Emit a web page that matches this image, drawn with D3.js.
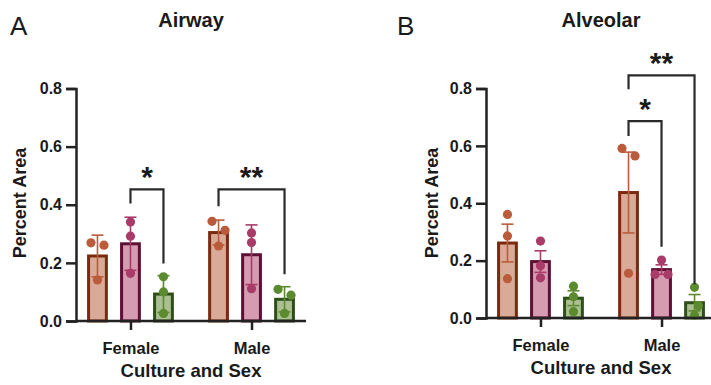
<!DOCTYPE html>
<html>
<head>
<meta charset="utf-8">
<script src="https://cdn.jsdelivr.net/npm/d3@7"></script>
<style>
  body { margin: 0; background: #fff; }
  text { font-family: "Liberation Sans", Arial, Helvetica, sans-serif; fill: #1a1a1a; }
</style>
</head>
<body>
<div id="chart"></div>
<script>
// categories and series
const groups = ['Female', 'Male'];
const series = ['c1', 'c2', 'c3'];
const yTicks = [0, 0.2, 0.4, 0.6, 0.8];

// individual replicate values, [group][series][replicate]
const airwayPoints = [
  [[0.269, 0.261, 0.141], [0.341, 0.292, 0.164], [0.152, 0.100, 0.026]],
  [[0.343, 0.312, 0.258], [0.303, 0.270, 0.111], [0.109, 0.089, 0.026]]
];
const alveolarPoints = [
  [[0.361, 0.286, 0.137], [0.268, 0.182, 0.140], [0.111, 0.074, 0.022]],
  [[0.591, 0.565, 0.156], [0.202, 0.152, 0.152], [0.107, 0.043, 0.010]]
];
// horizontal spread of dots (-1 left, 0 centre, 1 right)
const airwayJitter = [
  [[-1, 1, 0], [0, 0, 0], [0, 0, 0]],
  [[-1, 1, 0], [0, 0, 0], [-1, 1, 0]]
];
const alveolarJitter = [
  [[0, 0, 0], [0, 0, 0], [0, 0, 0]],
  [[-1, 1, 0], [0, -1, 1], [0, 0.6, 0]]
];

// significance brackets: group, from series, to series, top, left end, right end
const airwaySig = [
  { group: 'Female', from: 1, to: 2, top: 0.453, left: 0.404, right: 0.198, label: '*' },
  { group: 'Male', from: 0, to: 2, top: 0.453, left: 0.395, right: 0.161, label: '**' }
];
const alveolarSig = [
  { group: 'Male', from: 0, to: 1, top: 0.686, left: 0.634, right: 0.248, label: '*' },
  { group: 'Male', from: 0, to: 2, top: 0.846, left: 0.797, right: 0.118, label: '**' }
];

const fills = ['#d9aa97', '#d59bb0', '#aac092'];
const strokes = ['#7a2a0f', '#5e0f33', '#2f4f18'];
const dotColors = ['#ba5b3b', '#a93b69', '#5c8a2f'];

const W = 711, H = 385;
const svg = d3.select('#chart').append('svg')
  .attr('width', W)
  .attr('height', H);

function drawPanel(opt) {
  const g = svg.append('g');

  const x = d3.scalePoint()
    .domain(groups)
    .range([opt.left, opt.left + 230])
    .padding(0.45);

  const sub = d3.scaleBand()
    .domain(series)
    .range([-49.5, 49.5])
    .paddingInner(0.4)
    .paddingOuter(0.2);

  const y = d3.scaleLinear()
    .domain([0, 0.8])
    .range([opt.bottom, 88.5]);

  // panel letter and title
  g.append('text')
    .attr('x', opt.letterX)
    .attr('y', 35)
    .style('font-size', '26px')
    .text(opt.letter);

  g.append('text')
    .attr('x', opt.left + 115)
    .attr('y', 27)
    .attr('text-anchor', 'middle')
    .style('font-size', '20px')
    .style('font-weight', 'bold')
    .text(opt.title);

  // bars, error bars, dots
  groups.forEach((grp, gi) => {
    series.forEach((s, si) => {
      const vals = opt.points[gi][si];
      const mean = d3.mean(vals);
      let err = d3.deviation(vals);
      if (opt.sem) err = err / Math.sqrt(vals.length);
      const cx = x(grp) + sub(s) + sub.bandwidth() / 2;
      const bw = sub.bandwidth() + 1;

      g.append('rect')
        .attr('x', cx - bw / 2 + 1.5)
        .attr('y', y(mean))
        .attr('width', bw - 3)
        .attr('height', y(0) - y(mean))
        .attr('fill', fills[si])
        .attr('stroke', strokes[si])
        .attr('stroke-width', 3);

      const eg = g.append('g')
        .attr('stroke', dotColors[si])
        .attr('stroke-width', 1.6);
      eg.append('line')
        .attr('x1', cx).attr('x2', cx)
        .attr('y1', y(mean - err)).attr('y2', y(mean + err));
      [mean - err, mean + err].forEach(v => {
        eg.append('line')
          .attr('x1', cx - 6).attr('x2', cx + 6)
          .attr('y1', y(v)).attr('y2', y(v));
      });

      vals.forEach((v, k) => {
        g.append('circle')
          .attr('cx', cx + opt.jitter[gi][si][k] * 6.5)
          .attr('cy', y(v))
          .attr('r', 4.6)
          .attr('fill', dotColors[si]);
      });
    });
  });

  // y axis
  const yAxis = g.append('g')
    .attr('transform', `translate(${opt.left},0)`)
    .call(d3.axisLeft(y).tickValues(yTicks).tickFormat(d3.format('.1f')).tickSize(10).tickPadding(4));
  yAxis.select('.domain').attr('stroke', '#222').attr('stroke-width', 2.5);
  yAxis.selectAll('.tick line').attr('stroke', '#222').attr('stroke-width', 2.5);
  yAxis.selectAll('.tick text')
    .style('font-size', '16px')
    .style('font-weight', 'bold')
    .attr('fill', '#1a1a1a');

  // x axis
  const xAxis = g.append('g')
    .attr('transform', `translate(0,${opt.bottom})`)
    .call(d3.axisBottom(x).tickSize(9).tickSizeOuter(0).tickPadding(12));
  xAxis.select('.domain').attr('stroke', '#222').attr('stroke-width', 2.5)
    .attr('d', `M${opt.left},0H${opt.left + 230}`);
  xAxis.selectAll('.tick line').attr('stroke', '#222').attr('stroke-width', 2.5);
  xAxis.selectAll('.tick text')
    .style('font-size', '16.5px')
    .style('font-weight', 'bold')
    .attr('fill', '#1a1a1a');

  // axis titles
  g.append('text')
    .attr('transform', `translate(${opt.yLabelX},203) rotate(-90)`)
    .attr('text-anchor', 'middle')
    .attr('dominant-baseline', 'central')
    .style('font-size', '18px')
    .style('font-weight', 'bold')
    .text('Percent Area');

  g.append('text')
    .attr('x', opt.left + 115)
    .attr('y', opt.bottom + 56)
    .attr('text-anchor', 'middle')
    .style('font-size', '18.5px')
    .style('font-weight', 'bold')
    .text('Culture and Sex');

  // significance brackets
  opt.sig.forEach(b => {
    const x1 = x(b.group) + sub(series[b.from]) + sub.bandwidth() / 2;
    const x2 = x(b.group) + sub(series[b.to]) + sub.bandwidth() / 2;
    g.append('path')
      .attr('d', `M${x1},${y(b.left)}V${y(b.top)}H${x2}V${y(b.right)}`)
      .attr('fill', 'none')
      .attr('stroke', '#2a2a2a')
      .attr('stroke-width', 2.2);
    g.append('text')
      .attr('x', (x1 + x2) / 2)
      .attr('y', y(b.top) - 2)
      .attr('text-anchor', 'middle')
      .style('font-size', '30px')
      .style('font-weight', 'bold')
      .text(b.label);
  });
}

drawPanel({
  left: 76, bottom: 321, letter: 'A', letterX: 10, title: 'Airway', yLabelX: 20,
  points: airwayPoints, jitter: airwayJitter, sig: airwaySig, sem: false
});

drawPanel({
  left: 486, bottom: 318, letter: 'B', letterX: 397, title: 'Alveolar', yLabelX: 432,
  points: alveolarPoints, jitter: alveolarJitter, sig: alveolarSig, sem: true
});
</script>
</body>
</html>
